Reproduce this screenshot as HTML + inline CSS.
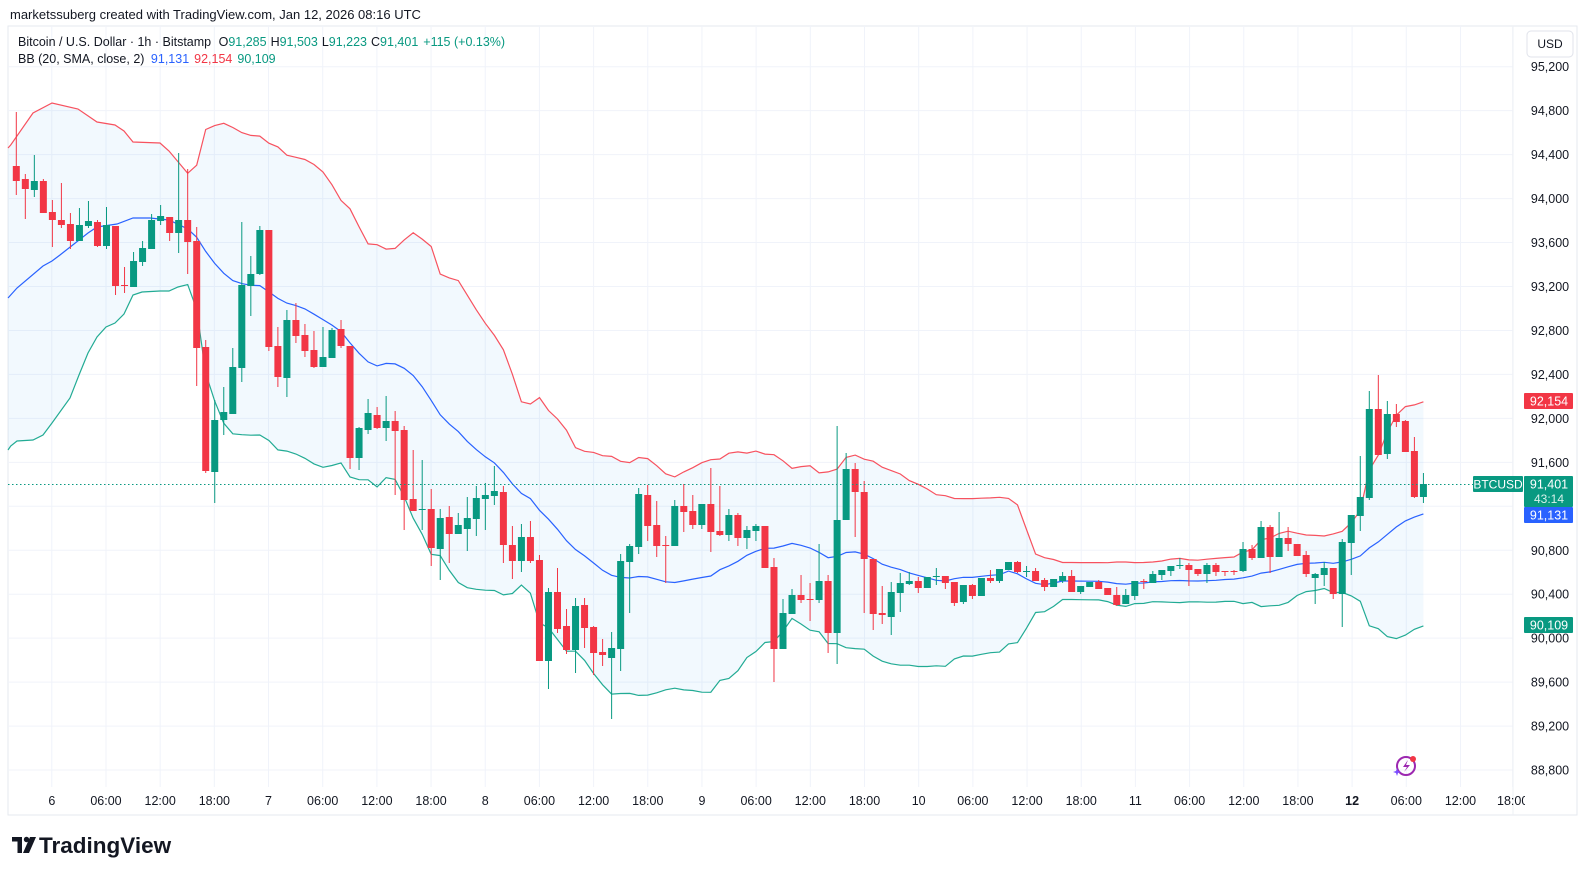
<!DOCTYPE html>
<html><head><meta charset="utf-8">
<style>
html,body{margin:0;padding:0;background:#fff;}
body{width:1587px;height:875px;overflow:hidden;font-family:"Liberation Sans",sans-serif;}
svg text{font-family:"Liberation Sans",sans-serif;}
</style></head>
<body>
<svg id="s" width="1587" height="875" xmlns="http://www.w3.org/2000/svg">
<rect x="0" y="0" width="1587" height="875" fill="#fff"/>
<text x="10" y="19" font-size="13" fill="#131722">marketssuberg created with TradingView.com, Jan 12, 2026 08:16 UTC</text>
<rect x="8" y="26" width="1569" height="789" fill="#fff" stroke="#e6e9ef" stroke-width="1"/>
<g id="grid"></g>
<g id="bands"></g>
<g id="candles"></g>
<g id="axis"></g>
<text x="18" y="46" font-size="12.5" fill="#131722">Bitcoin / U.S. Dollar · 1h · Bitstamp <tspan dx="4">O</tspan><tspan fill="#089981">91,285</tspan><tspan dx="4">H</tspan><tspan fill="#089981">91,503</tspan><tspan dx="4">L</tspan><tspan fill="#089981">91,223</tspan><tspan dx="4">C</tspan><tspan fill="#089981">91,401</tspan><tspan dx="5" fill="#089981">+115 (+0.13%)</tspan></text>
<text x="18" y="63" font-size="12.5" fill="#131722">BB (20, SMA, close, 2) <tspan dx="3" fill="#2962ff">91,131</tspan><tspan dx="5" fill="#f23645">92,154</tspan><tspan dx="5" fill="#089981">90,109</tspan></text>
<rect x="1527" y="31" width="46" height="26" rx="4" fill="#fff" stroke="#e0e3eb"/>
<text x="1550" y="48" font-size="12" fill="#131722" text-anchor="middle">USD</text>
<g transform="translate(12,845)">
<rect x="0" y="-8" width="10" height="4.5" fill="#131722"/><rect x="5.5" y="-8" width="4.5" height="16" fill="#131722"/>
<circle cx="14.5" cy="-5.5" r="2.7" fill="#131722"/><polygon points="18,-8 24,-8 17,8 11,8" fill="#131722"/>
<text x="27" y="8" font-size="22.5" font-weight="bold" fill="#131722">TradingView</text>
</g>
<g transform="translate(1406,766)">
<circle cx="0" cy="0" r="9" fill="none" stroke="#9c27b0" stroke-width="2"/>
<path d="M2,-6 L-3,1 L1,1 L-2,6 L4,-1 L0,-1 Z" fill="#9c27b0"/>
<circle cx="7" cy="-7" r="3" fill="#f23645"/>
<path d="M-9,2 L-8,5 L-5,6 L-8,7 L-9,10 L-10,7 L-13,6 L-10,5Z" fill="#7b4dff"/>
</g>
</svg>
<script>
var D=`r 166 181 112 195
r 179 189 174 219
g 181 190 155 197
r 181 213 179 213
r 212 220 200 247
r 220 225 183 228
r 224 241 213 249
g 225 241 208 241
g 221 226 201 228
r 222 246 220 247
g 225 246 207 249
r 226 286 226 295
r 285 286 267 293
g 261 287 252 287
g 248 262 241 266
g 220 249 214 249
g 216 221 205 225
r 217 233 217 241
g 220 233 153 253
r 220 242 169 274
r 241 348 227 386
r 347 471 340 473
g 420 472 400 503
g 412 420 387 435
g 367 414 348 414
g 285 368 222 382
g 274 286 256 316
g 230 274 226 275
r 230 347 230 351
r 346 377 327 387
g 320 378 310 397
r 320 336 303 343
r 335 351 324 357
r 350 367 331 368
g 357 367 327 367
g 330 358 328 358
r 329 346 320 348
r 346 458 346 469
g 428 458 427 470
g 413 430 399 434
r 415 428 407 429
g 421 428 396 441
r 421 431 411 495
r 430 500 426 530
r 499 511 450 511
g 509 510 460 530
r 509 548 489 566
g 518 549 509 580
r 517 534 506 563
g 525 534 513 534
g 518 529 497 551
g 498 519 486 536
g 495 499 483 530
g 491 496 466 505
r 492 545 486 563
r 545 561 526 579
g 537 561 524 572
r 537 561 521 563
r 560 661 555 661
g 592 661 588 689
r 592 629 568 633
r 626 650 609 654
g 606 650 598 673
r 605 628 598 648
r 627 653 626 675
r 652 655 639 666
g 648 658 632 719
g 561 649 554 671
g 546 562 544 613
g 494 547 488 554
r 495 526 485 541
r 525 546 501 557
r 545 546 536 583
g 506 546 500 546
r 506 512 484 532
r 511 525 495 529
g 504 525 504 529
r 504 532 468 552
r 531 535 486 536
g 515 535 509 541
r 515 538 513 546
g 530 538 526 549
g 526 531 524 541
r 526 568 526 568
r 567 649 558 682
g 613 649 599 649
g 595 614 589 614
r 595 600 575 603
r 599 600 583 621
g 581 600 544 603
r 581 633 575 653
g 520 633 426 664
g 469 520 453 520
r 469 492 463 537
r 492 559 481 613
r 559 614 559 630
r 613 615 586 624
g 592 617 582 635
g 583 593 573 612
g 581 584 572 585
r 581 588 577 593
g 577 588 577 588
g 576 577 568 585
r 576 583 576 589
r 582 603 582 606
g 585 602 585 604
r 585 596 584 599
g 578 596 578 596
r 578 581 570 583
g 569 581 569 583
g 562 570 562 570
r 562 572 561 573
g 571 572 566 577
r 571 581 568 581
r 580 587 578 591
g 579 587 579 587
g 576 581 572 583
r 576 592 570 592
g 586 592 586 594
g 582 587 582 587
r 582 589 580 589
r 588 595 588 595
r 595 605 587 606
g 595 604 589 604
g 581 596 581 600
r 581 582 579 589
g 574 583 571 583
g 570 575 570 580
g 566 571 566 576
g 565 566 558 569
r 565 570 563 586
r 569 574 569 576
g 565 574 563 583
r 565 572 563 576
r 571 572 571 576
r 571 572 570 575
g 549 571 542 572
r 549 558 545 560
g 527 558 521 558
r 527 557 525 573
g 538 557 512 557
r 538 544 527 551
r 544 556 544 556
r 555 574 551 577
g 574 578 573 604
g 568 575 562 586
r 568 594 568 599
g 542 594 539 627
g 515 543 515 575
g 497 516 456 531
g 409 498 391 500
r 409 455 375 455
g 414 454 401 459
r 414 422 404 427
r 421 452 420 452
r 451 497 437 498
g 484 497 473 503`.split('\n').map(function(l){var a=l.trim().split(' ');return [a[0],+a[1],+a[2],+a[3],+a[4]];});
var NS='http://www.w3.org/2000/svg';
function el(p,t,at,txt){var e=document.createElementNS(NS,t);for(var k in at)e.setAttribute(k,at[k]);if(txt!=null)e.textContent=txt;document.getElementById(p).appendChild(e);return e;}
var G='#089981',R='#f23645';
function X(i){return 16.3+i*9.02;}
function Y(p){return 66.7+(95200-p)*0.10990;}
for(var p=88800;p<=95200;p+=400){var y=Y(p);el('grid','line',{x1:8,x2:1513,y1:y,y2:y,stroke:'#f0f3fa','stroke-width':1});}
var tl=[];for(var h=0;h<=162;h+=6){var x=51.8+h*9.03;if(h==162)x-=2;tl.push([x,h%24==0?String(6+h/24):((h%24<10?'0':'')+(h%24)+':00'),h%24==0]);el('grid','line',{x1:x,x2:x,y1:26,y2:787,stroke:'#f0f3fa','stroke-width':1});}
el('grid','line',{x1:1513,x2:1513,y1:26,y2:815,stroke:'#eef0f4','stroke-width':1});
var cl=D.map(function(c){return c[0]=='g'?c[1]:c[2];});
var up=[[8,148],[10.7,145],[33,113],[52,103],[78,109],[97,122],[115,125],[124,131],[133,142],[160,143],[169,151]];
var md=[[8,298],[10.7,295],[17,288],[43,266],[52,261],[60,255],[88,233],[97,227],[117,224],[133,218],[150,218],[169,220]];
var lo=[[8,450],[10.7,446],[17,441],[33,440],[43,435],[52,423],[70,398],[79,375],[88,353],[97,337],[106,327],[115,323],[124,314],[133,295],[142,292],[160,291],[169,291],[178,287]];
for(var i=19;i<cl.length;i++){var s=0;for(var j=i-19;j<=i;j++)s+=cl[j];var m=s/20;var v=0;for(j=i-19;j<=i;j++)v+=(cl[j]-m)*(cl[j]-m);var sd=Math.sqrt(v/20);var x=X(i);up.push([x,m-2*sd]);md.push([x,m]);lo.push([x,m+2*sd]);}
function pts(a){return a.map(function(q){return q[0].toFixed(1)+','+q[1].toFixed(1);}).join(' ');}
el('bands','polygon',{points:pts(up)+' '+pts(lo.slice().reverse()),fill:'rgba(33,150,243,0.06)'});
el('bands','polyline',{points:pts(up),fill:'none',stroke:'#f7525f','stroke-width':1.2});
el('bands','polyline',{points:pts(md),fill:'none',stroke:'#2962ff','stroke-width':1.2});
el('bands','polyline',{points:pts(lo),fill:'none',stroke:'#22ab94','stroke-width':1.2});
D.forEach(function(c,i){var x=X(i),col=c[0]=='g'?G:R;el('candles','line',{x1:x,x2:x,y1:c[3],y2:c[4],stroke:col,'stroke-width':1});var h=Math.max(1,c[2]-c[1]);el('candles','rect',{x:x-3.5,y:c[1],width:7,height:h,fill:col});});
el('candles','line',{x1:8,x2:1473,y1:484.5,y2:484.5,stroke:G,'stroke-width':1,'stroke-dasharray':'1.5,2.5'});
for(p=88800;p<=95200;p+=400){var y=Y(p);el('axis','text',{x:1550,y:y+4.5,'font-size':12.5,fill:'#131722','text-anchor':'middle'},(p/1000|0)+','+String(p%1000).padStart(3,'0'));}
var cp=el('axis','clipPath',{id:'cp'});var r=document.createElementNS(NS,'rect');r.setAttribute('x',8);r.setAttribute('y',787);r.setAttribute('width',1517);r.setAttribute('height',28);cp.appendChild(r);
tl.forEach(function(t){el('axis','text',{x:t[0],y:805,'font-size':12.5,fill:'#131722','text-anchor':'middle','clip-path':'url(#cp)','font-weight':t[1]=='12'?'bold':'normal'},t[1]);});
function box(y1,h,col,txt,txt2){el('axis','rect',{x:1524,y:y1,width:49,height:h,fill:col,rx:1});el('axis','text',{x:1549,y:y1+12.5,'font-size':12.5,fill:'#fff','text-anchor':'middle'},txt);if(txt2)el('axis','text',{x:1549,y:y1+27,'font-size':12,fill:'#d7f0ea','text-anchor':'middle'},txt2);}
box(393,16,R,'92,154');
box(476,31,G,'91,401','43:14');
box(507,16,'#2962ff','91,131');
box(617,16,G,'90,109');
el('axis','rect',{x:1473,y:476,width:50,height:16,fill:G,rx:1});
el('axis','text',{x:1498,y:488.5,'font-size':12,fill:'#fff','text-anchor':'middle'},'BTCUSD');
</script>
</body></html>
